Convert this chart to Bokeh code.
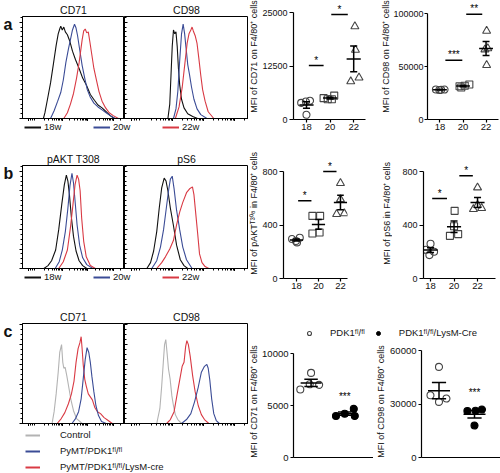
import numpy as np
from bokeh.plotting import figure
from bokeh.layouts import row, column
from bokeh.models import (Legend, LegendItem, FixedTicker, SingleIntervalTicker,
                          NumeralTickFormatter, Range1d, CustomLabelingPolicy)
from bokeh.core.properties import value
from bokeh.embed import file_html
from bokeh.resources import INLINE

FONT = "Liberation Sans"
BLACK = "#111111"
BLUE = "#3b4c96"
RED = "#d93a44"
GRAY = "#b3b3b3"
MARK = "#444444"

# ---------------- histogram curves (normalised fluorescence 0-100, % of max) ----------------
a_cd71_18w_x = [20.5, 22.0, 24.5, 27.5, 30.5, 33.0, 35.0, 36.5, 37.5, 39.0, 40.5, 42.0, 44.0, 46.5, 49.0, 52.0, 55.5, 59.0, 62.5, 66.5, 70.5, 74.0, 78.0, 82.0, 86.0, 90.0]
a_cd71_18w_y = [0, 6, 20, 37, 58, 76, 88, 93, 96, 92, 95, 90, 87, 80, 70, 61, 52, 42, 35, 25, 19, 14, 11, 7, 3, 0]
a_cd71_20w_x = [27.5, 31.0, 34.5, 37.5, 40.0, 42.5, 45.0, 47.0, 49.0, 51.0, 52.5, 54.0, 56.0, 58.5, 61.0, 63.5, 66.5, 70.0, 74.0, 78.0, 82.0, 86.0, 91.0]
a_cd71_20w_y = [0, 8, 18, 27, 40, 58, 72, 82, 92, 98, 94, 86, 72, 55, 42, 30, 22, 16, 12, 9, 6, 3, 0]
a_cd71_22w_x = [40.5, 44.0, 47.0, 50.0, 53.0, 55.5, 57.0, 58.5, 60.0, 61.5, 63.0, 64.5, 66.0, 68.0, 70.0, 72.5, 75.0, 78.0, 81.5, 85.0, 89.0, 94.0]
a_cd71_22w_y = [0, 6, 15, 26, 42, 58, 70, 82, 91, 93, 89, 90, 80, 66, 52, 40, 28, 18, 11, 6, 3, 0]

a_cd98_18w_x = [35.0, 36.5, 37.5, 38.5, 39.5, 40.5, 41.5, 42.5, 43.5, 44.5, 46.0, 48.0, 51.0, 55.0, 59.0]
a_cd98_18w_y = [0, 15, 45, 75, 92, 88, 90, 75, 52, 35, 20, 11, 5, 2, 0]
a_cd98_20w_x = [39.5, 41.5, 43.0, 44.5, 46.0, 47.3, 48.5, 49.5, 51.0, 52.5, 54.0, 56.0, 58.5, 61.5, 66.5]
a_cd98_20w_y = [0, 10, 28, 60, 88, 98, 88, 75, 56, 45, 33, 20, 10, 4, 0]
a_cd98_22w_x = [41.0, 44.0, 46.5, 48.5, 50.5, 52.0, 53.5, 54.5, 55.5, 57.0, 58.5, 60.0, 61.5, 63.0, 65.0, 67.5, 72.0]
a_cd98_22w_y = [0, 12, 32, 55, 78, 88, 92, 95, 91, 86, 78, 62, 45, 30, 18, 7, 0]

b_akt_18w_x = [21.0, 25.0, 28.5, 32.5, 35.5, 38.5, 41.0, 43.0, 44.5, 46.0, 48.0, 50.0, 52.5, 55.5, 59.0, 63.0]
b_akt_18w_y = [0, 3, 8, 19, 40, 66, 86, 96, 90, 76, 52, 33, 18, 8, 3, 0]
b_akt_20w_x = [32.0, 36.0, 39.0, 42.0, 44.5, 46.5, 48.5, 50.0, 51.5, 53.5, 56.0, 59.0, 63.0, 69.0]
b_akt_20w_y = [0, 7, 19, 38, 62, 85, 98, 88, 70, 45, 24, 11, 4, 0]
b_akt_22w_x = [35.5, 40.0, 44.0, 47.0, 49.5, 51.5, 53.5, 55.0, 56.5, 58.0, 60.0, 62.5, 66.5, 71.5]
b_akt_22w_y = [0, 7, 19, 42, 66, 86, 96, 92, 80, 52, 28, 12, 3, 0]

b_ps6_18w_x = [18.0, 21.0, 23.5, 26.0, 28.0, 30.0, 32.0, 33.5, 35.0, 37.0, 39.5, 42.0, 45.0, 48.0, 51.0]
b_ps6_18w_y = [0, 6, 18, 38, 62, 83, 93, 90, 80, 62, 44, 24, 9, 3, 0]
b_ps6_20w_x = [22.0, 26.0, 29.0, 31.5, 33.5, 35.5, 37.0, 38.5, 40.0, 42.0, 44.5, 47.0, 50.0, 54.5]
b_ps6_20w_y = [0, 8, 22, 40, 60, 80, 92, 95, 82, 60, 40, 22, 9, 0]
b_ps6_22w_x = [26.0, 30.0, 33.0, 36.5, 39.5, 42.0, 44.5, 47.0, 50.0, 52.5, 54.8, 56.0, 57.5, 59.0, 60.5, 62.5, 65.0, 68.0]
b_ps6_22w_y = [0, 6, 12, 20, 29, 45, 58, 68, 78, 82, 84, 76, 56, 36, 15, 6, 2, 0]

c_cd71_ctrl_x = [29.0, 31.0, 33.0, 35.0, 36.5, 38.3, 39.5, 40.5, 41.8, 43.5, 45.5, 47.5, 50.0, 53.0, 58.5]
c_cd71_ctrl_y = [0, 12, 30, 52, 72, 80, 62, 56, 57, 48, 36, 24, 13, 5, 0]
c_cd71_fl_x = [48.5, 52.0, 55.0, 57.5, 59.5, 61.5, 63.3, 65.0, 66.5, 68.0, 70.0, 72.0, 74.5, 77.5, 82.0]
c_cd71_fl_y = [0, 5, 12, 25, 45, 65, 77, 72, 62, 48, 32, 18, 8, 2, 0]
c_cd71_cre_x = [34.0, 38.0, 41.5, 45.0, 48.0, 50.5, 52.5, 54.5, 56.3, 57.5, 58.5, 59.5, 61.0, 62.5, 64.5, 66.5, 68.5, 71.0, 73.5, 76.5, 80.0, 84.0, 88.0]
c_cd71_cre_y = [0, 5, 11, 20, 30, 43, 62, 76, 82, 88, 75, 60, 45, 38, 30, 27, 24, 16, 12, 10, 6, 3, 0]

c_cd98_ctrl_x = [26.0, 28.5, 30.0, 31.3, 32.3, 33.3, 34.3, 35.5, 36.8, 38.2, 39.5, 41.0, 43.0, 46.0]
c_cd98_ctrl_y = [0, 15, 38, 62, 80, 85, 72, 55, 45, 28, 18, 9, 4, 0]
c_cd98_fl_x = [46.0, 50.0, 53.5, 56.5, 59.5, 62.0, 64.5, 66.4, 67.5, 68.8, 70.3, 72.0, 74.0, 76.5]
c_cd98_fl_y = [0, 4, 10, 22, 37, 52, 58, 60, 56, 44, 25, 10, 3, 0]
c_cd98_cre_x = [34.0, 37.0, 40.0, 42.5, 44.5, 46.5, 48.0, 49.3, 50.3, 51.5, 53.0, 55.0, 57.0, 59.5, 62.0, 64.5, 68.0]
c_cd98_cre_y = [0, 4, 12, 30, 44, 58, 62, 78, 84, 80, 68, 48, 32, 18, 9, 4, 0]

# ---------------- scatter data ----------------
weeks = [18, 20, 22]
week_labels = ["18", "20", "22"]

a1_18_x = [17.55, 17.95, 18.3, 18.0];  a1_18 = [3900, 4200, 4400, 1100]
a1_20_x = [19.45, 19.8, 20.15, 20.35]; a1_20 = [5000, 4750, 4750, 5600]
a1_22_x = [22.1, 22.15, 21.75, 22.45]; a1_22 = [21800, 16300, 8900, 9800]
a1_sig_x0 = [18.2, 20.1]; a1_sig_x1 = [19.45, 21.5]; a1_sig_y = [12650, 24600]; a1_sig = ["*", "*"]

a2_18_x = [17.65, 17.95, 18.4, 18.1];  a2_18 = [28300, 27800, 28300, 28000]
a2_20_x = [19.7, 20.15, 20.55, 19.85]; a2_20 = [31400, 31800, 33000, 30200]
a2_22_x = [22.05, 21.9, 22.05, 22.15]; a2_22 = [83600, 66000, 51300, 67100]
a2_sig_x0 = [18.47, 20.28]; a2_sig_x1 = [19.94, 21.67]; a2_sig_y = [56000, 99400]; a2_sig = ["***", "**"]

b1_18_x = [17.6, 17.95, 18.3, 18.05];  b1_18 = [295, 280, 305, 270]
b1_20_x = [19.45, 20.15, 19.45, 20.1]; b1_20 = [468, 468, 337, 344]
b1_22_x = [22.0, 21.65, 22.35, 22.0];  b1_22 = [713, 481, 486, 592]
b1_sig_x0 = [18.15, 20.43]; b1_sig_x1 = [19.36, 21.64]; b1_sig_y = [581, 800]; b1_sig = ["*", "*"]

b2_18_x = [18.0, 17.6, 18.3, 17.9];    b2_18 = [260, 215, 200, 175]
b2_20_x = [20.05, 19.65, 20.35, 20.0]; b2_20 = [506, 319, 332, 391]
b2_22_x = [22.0, 21.65, 22.35, 22.0];  b2_22 = [680, 518, 526, 548]
b2_sig_x0 = [18.14, 20.45]; b2_sig_x1 = [19.4, 21.6]; b2_sig_y = [598, 768]; b2_sig = ["*", "*"]

c1_fl_x = [1.0, 0.68, 0.96, 1.24];  c1_fl = [8150, 6550, 7050, 7000]
c1_cre_x = [1.74, 2.0, 2.27, 2.3];  c1_cre = [4000, 4220, 4680, 4000]
c1_star_x = [2.0]; c1_star_y = [5300]; c1_star = ["***"]

c2_fl_x = [1.0, 0.76, 1.0, 1.21];   c2_fl = [51000, 35000, 31300, 33200]
c2_cre_x = [1.8, 2.03, 2.21, 2.0];  c2_cre = [26200, 26300, 27000, 18000]
c2_star_x = [2.0]; c2_star_y = [33500]; c2_star = ["***"]

HIST_XTICKS = [6, 39, 64, 89]
HIST_XMINOR = [8, 10, 12] + [d + 25 * np.log10(k) for d in (14, 39, 64, 89) for k in range(2, 10)
                            if d + 25 * np.log10(k) < 100]

NO_LABELS = CustomLabelingPolicy(code="return []")
NAN = [float("nan")]


def base_fig(width, height, left, right, top, bottom, xr, yr, title=None):
    kw = dict(width=width, height=height, x_range=Range1d(*xr), y_range=Range1d(*yr),
              toolbar_location=None, output_backend="svg", min_border=0,
              min_border_left=left, min_border_right=right, min_border_top=top,
              min_border_bottom=bottom)
    if title is not None:
        kw["title"] = title
    p = figure(**kw)
    p.grid.visible = False
    p.background_fill_color = "white"
    p.border_fill_color = "white"
    return p


def blank_fig(width, height):
    p = figure(width=width, height=height, toolbar_location=None, output_backend="svg",
               min_border=0, min_border_left=0, min_border_right=0, min_border_top=0,
               min_border_bottom=0, x_axis_type=None, y_axis_type=None,
               x_range=Range1d(0, width), y_range=Range1d(0, height))
    p.outline_line_color = None
    p.grid.visible = False
    return p


def text_strip(width, height, text, x, y_top, size="9px", bold=False, angle=0.0, align="center"):
    """A narrow strip holding one text (axis title or panel letter); y_top is measured from the top."""
    p = blank_fig(width, height)
    p.text(x=[x], y=[height - y_top], text=[text], angle=angle, text_align=align,
           text_baseline="middle", text_font=value(FONT), text_font_size=size,
           text_font_style="bold" if bold else "normal", text_color="#111111")
    return p


def make_hist(title, curves, width, left, right, top, frame_h, bottom, ymax, first):
    p = base_fig(width, top + frame_h + bottom, left, right, top, bottom, (0, 100), (0, ymax), title)
    p.title.align = "center"
    p.title.text_font = FONT
    p.title.text_font_size = "10.5px"
    p.title.text_font_style = "normal"
    p.title.text_color = "#111111"
    p.title.standoff = 2
    p.outline_line_color = "black"
    p.outline_line_alpha = 1.0
    for xs, ys, c in curves:
        p.line(xs, ys, line_color=c, line_width=1.1)
    ya = p.yaxis[0]
    ya.ticker = SingleIntervalTicker(interval=20, num_minor_ticks=4)
    ya.major_label_text_font_size = "0px"
    ya.major_label_standoff = 0
    ya.major_label_policy = NO_LABELS
    ya.axis_line_color = "black"
    if first:
        ya.major_tick_out, ya.major_tick_in, ya.minor_tick_out, ya.minor_tick_in = 3, 0, 2, 0
    else:
        ya.major_tick_out, ya.major_tick_in, ya.minor_tick_out, ya.minor_tick_in = 0, 3, 0, 2
    xa = p.xaxis[0]
    xa.ticker = FixedTicker(ticks=HIST_XTICKS, minor_ticks=HIST_XMINOR)
    xa.major_label_text_font_size = "0px"
    xa.major_label_standoff = 0
    xa.major_label_policy = NO_LABELS
    xa.major_tick_out, xa.major_tick_in, xa.minor_tick_out, xa.minor_tick_in = 3, 0, 2, 0
    return p


def make_scatter(width, height, left, right, top, bottom, xr, yr, yticks, ybounds, xticks,
                 ytick_font="9px", xtick_font="9.5px", tick_out=4, standoff=2):
    p = base_fig(width, height, left, right, top, bottom, xr, yr)
    p.outline_line_color = None
    ya = p.yaxis[0]
    ya.ticker = FixedTicker(ticks=yticks, minor_ticks=[])
    ya.bounds = ybounds
    ya.formatter = NumeralTickFormatter(format="0")
    ya.major_tick_out, ya.major_tick_in, ya.minor_tick_out, ya.minor_tick_in = tick_out, 0, 0, 0
    ya.major_label_standoff = standoff
    ya.major_label_text_font = FONT
    ya.major_label_text_font_size = ytick_font
    ya.major_label_text_color = "#111111"
    ya.axis_line_width = 1.2
    ya.major_tick_line_width = 1.2
    xa = p.xaxis[0]
    xa.ticker = FixedTicker(ticks=xticks, minor_ticks=[])
    if xticks:
        xa.major_label_overrides = {t: l for t, l in zip(weeks, week_labels)}
        xa.major_tick_out = 3
        xa.major_label_text_font_size = xtick_font
    else:
        xa.major_tick_out = 0
        xa.major_label_text_font_size = "0px"
        xa.major_label_policy = NO_LABELS
    xa.major_tick_in, xa.minor_tick_out, xa.minor_tick_in = 0, 0, 0
    xa.major_label_standoff = 1
    xa.major_label_text_font = FONT
    xa.major_label_text_color = "#111111"
    xa.axis_line_width = 1.2
    xa.major_tick_line_width = 1.2
    return p


def add_group(p, xs, ys, center, marker, size, fill, half_mean, half_cap):
    p.scatter(xs, ys, marker=marker, size=size, line_color=MARK if fill is None else "black",
              fill_color=fill, line_width=1.1)
    m = float(np.mean(ys))
    s = float(np.std(ys, ddof=1) / np.sqrt(len(ys)))
    p.segment(x0=[center - half_mean, center - half_cap, center - half_cap, center],
              y0=[m, m + s, m - s, m - s],
              x1=[center + half_mean, center + half_cap, center + half_cap, center],
              y1=[m, m + s, m - s, m + s], line_color="black", line_width=1.5)


def add_stars(p, xs, ys, stars):
    p.text(x=xs, y=ys, text=stars, text_align="center", text_baseline="bottom",
           text_font=value(FONT), text_font_size="10px", text_color="#000000")


def add_sig(p, x0s, x1s, ys, stars):
    p.segment(x0=x0s, y0=ys, x1=x1s, y1=ys, line_color="black", line_width=1.5)
    add_stars(p, [(a + b) / 2 for a, b in zip(x0s, x1s)], ys, stars)


def legend_fig(width, height, items, orientation, loc, glyph_w, standoff, spacing, font_size):
    p = blank_fig(width, height)
    its = []
    for label, kind, color in items:
        if kind == "line":
            r = p.line(x=NAN, y=NAN, line_color=color, line_width=2)
        elif kind == "open":
            r = p.scatter(x=NAN, y=NAN, marker="circle", size=7, line_color=MARK,
                          fill_color=None, line_width=1.1)
        else:
            r = p.scatter(x=NAN, y=NAN, marker="circle", size=7, line_color="black",
                          fill_color="black")
        its.append(LegendItem(label=value(label), renderers=[r]))
    leg = Legend(items=its, location=loc, orientation=orientation, glyph_width=glyph_w,
                 glyph_height=10, label_height=10, label_standoff=standoff, spacing=spacing,
                 padding=0, margin=0, border_line_color=None, background_fill_alpha=0,
                 label_text_font=FONT, label_text_font_size=font_size, label_text_color="#151515")
    p.add_layout(leg)
    return p


ROT = np.pi / 2

# ---------------- row a ----------------
hA1 = make_hist("CD71", [(a_cd71_18w_x, a_cd71_18w_y, BLACK), (a_cd71_20w_x, a_cd71_20w_y, BLUE),
                         (a_cd71_22w_x, a_cd71_22w_y, RED)], 105, 3, 0, 15, 103, 3, 106, True)
hA2 = make_hist("CD98", [(a_cd98_18w_x, a_cd98_18w_y, BLACK), (a_cd98_20w_x, a_cd98_20w_y, BLUE),
                         (a_cd98_22w_x, a_cd98_22w_y, RED)], 124, 0, 0, 15, 103, 3, 106, False)
letA = text_strip(19, 121, "a", 3, 9, size="16px", bold=True, align="left")
week_items = [("18w", "line", BLACK), ("20w", "line", BLUE), ("22w", "line", RED)]
lA = legend_fig(248, 19, week_items, "horizontal", (24, 8), 17, 3, 29, "9.5px")

yA1 = text_strip(11, 140, "MFI of CD71 on F4/80\u207a cells", 5.5, 66, angle=ROT)
sA1 = make_scatter(116, 140, 34, 10, 0, 21, (16.9, 23.0), (0, 27880), [0, 12500, 25000], (0, 25000), weeks)
add_group(sA1, a1_18_x, a1_18, 18, "circle", 7, None, 0.6, 0.3)
add_group(sA1, a1_20_x, a1_20, 20, "square", 7, None, 0.6, 0.3)
add_group(sA1, a1_22_x, a1_22, 22, "triangle", 8, None, 0.6, 0.3)
add_sig(sA1, a1_sig_x0, a1_sig_x1, a1_sig_y, a1_sig)

yA2 = text_strip(15, 140, "MFI of CD98 on F4/80\u207a cells", 10, 66, angle=ROT)
sA2 = make_scatter(110, 140, 34, 2, 0, 21, (16.92, 23.08), (0, 112300), [0, 50000, 100000], (0, 100000),
                   weeks, tick_out=3, standoff=1)
add_group(sA2, a2_18_x, a2_18, 18, "circle", 7, None, 0.6, 0.3)
add_group(sA2, a2_20_x, a2_20, 20, "square", 7, None, 0.6, 0.3)
add_group(sA2, a2_22_x, a2_22, 22, "triangle", 8, None, 0.6, 0.3)
add_sig(sA2, a2_sig_x0, a2_sig_x1, a2_sig_y, a2_sig)

rowA = row(column(row(letA, hA1, hA2), lA), yA1, sA1, yA2, sA2)

# ---------------- row b ----------------
hB1 = make_hist("pAKT T308", [(b_akt_18w_x, b_akt_18w_y, BLACK), (b_akt_20w_x, b_akt_20w_y, BLUE),
                              (b_akt_22w_x, b_akt_22w_y, RED)], 105, 3, 0, 25, 103, 3, 106, True)
hB2 = make_hist("pS6", [(b_ps6_18w_x, b_ps6_18w_y, BLACK), (b_ps6_20w_x, b_ps6_20w_y, BLUE),
                        (b_ps6_22w_x, b_ps6_22w_y, RED)], 124, 0, 0, 25, 103, 3, 106, False)
letB = text_strip(19, 131, "b", 3, 10, size="16px", bold=True, align="left")
lB = legend_fig(248, 29, week_items, "horizontal", (24, 18), 17, 3, 29, "9.5px")

yB1 = text_strip(11, 160, "MFI of pAKT\u1d40\u00b3\u2070\u2078 in F4/80\u207a cells", 5.5, 84.5, angle=ROT)
sB1 = make_scatter(116, 160, 24, 28, 0, 22, (16.82, 22.64), (0, 1032), [0, 400, 800], (0, 800), weeks)
add_group(sB1, b1_18_x, b1_18, 18, "circle", 7, None, 0.6, 0.3)
add_group(sB1, b1_20_x, b1_20, 20, "square", 7, None, 0.6, 0.3)
add_group(sB1, b1_22_x, b1_22, 22, "triangle", 8, None, 0.6, 0.3)
add_sig(sB1, b1_sig_x0, b1_sig_x1, b1_sig_y, b1_sig)

yB2 = text_strip(17, 160, "MFI of pS6 in F4/80\u207a cells", 11, 84.5, angle=ROT)
sB2 = make_scatter(108, 160, 31, 5, 0, 22, (17.4, 23.53), (0, 1032), [0, 400, 800], (0, 800), weeks)
add_group(sB2, b2_18_x, b2_18, 18, "circle", 7, None, 0.6, 0.3)
add_group(sB2, b2_20_x, b2_20, 20, "square", 7, None, 0.6, 0.3)
add_group(sB2, b2_22_x, b2_22, 22, "triangle", 8, None, 0.6, 0.3)
add_sig(sB2, b2_sig_x0, b2_sig_x1, b2_sig_y, b2_sig)

rowB = row(column(row(letB, hB1, hB2), lB), yB1, sB1, yB2, sB2)

# ---------------- row c ----------------
hC1 = make_hist("CD71", [(c_cd71_ctrl_x, c_cd71_ctrl_y, GRAY), (c_cd71_cre_x, c_cd71_cre_y, RED),
                         (c_cd71_fl_x, c_cd71_fl_y, BLUE)], 105, 3, 0, 23, 100, 3, 101.4, True)
hC2 = make_hist("CD98", [(c_cd98_ctrl_x, c_cd98_ctrl_y, GRAY), (c_cd98_cre_x, c_cd98_cre_y, RED),
                         (c_cd98_fl_x, c_cd98_fl_y, BLUE)], 124, 0, 0, 23, 100, 3, 101.4, False)
letC = text_strip(19, 126, "c", 3, 10, size="16px", bold=True, align="left")
geno_items = [("Control", "line", GRAY),
              ("PyMT/PDK1\u1da0\u02e1/\u1da0\u02e1", "line", BLUE),
              ("PyMT/PDK1\u1da0\u02e1/\u1da0\u02e1/LysM-cre", "line", RED)]
lC = legend_fig(248, 47, geno_items, "vertical", (25, 1), 15, 20, 5, "9.5px")

lS = legend_fig(252, 45, [("PDK1\u1da0\u02e1/\u1da0\u02e1", "open", MARK),
                          ("PDK1\u1da0\u02e1/\u1da0\u02e1/LysM-Cre", "filled", "black")],
                "horizontal", (56, 7), 10, 16, 8, "9.5px")

yC1 = text_strip(11, 128, "MFI of CD71 on F4/80\u207a cells", 5.5, 64, angle=ROT)
sC1 = make_scatter(114, 128, 32, 0, 0, 11, (0.478, 2.855), (0, 10790), [0, 5000, 10000], (0, 10000),
                   [], ytick_font="9.5px", tick_out=3, standoff=2)
add_group(sC1, c1_fl_x, c1_fl, 1, "circle", 7, None, 0.31, 0.2)
add_group(sC1, c1_cre_x, c1_cre, 2, "circle", 7, "black", 0.31, 0.2)
add_stars(sC1, c1_star_x, c1_star_y, c1_star)

yC2 = text_strip(14, 128, "MFI of CD98 on F4/80\u207a cells", 7, 64, angle=ROT)
sC2 = make_scatter(113, 128, 34, 0, 0, 16, (0.507, 2.732), (0, 63040), [0, 30000, 60000], (0, 60000),
                   [], ytick_font="9.5px", tick_out=3, standoff=2)
add_group(sC2, c2_fl_x, c2_fl, 1, "circle", 7, None, 0.31, 0.2)
add_group(sC2, c2_cre_x, c2_cre, 2, "circle", 7, "black", 0.31, 0.2)
add_stars(sC2, c2_star_x, c2_star_y, c2_star)

rowC = row(column(row(letC, hC1, hC2), lC), column(lS, row(yC1, sC1, yC2, sC2)))

root = column(rowA, rowB, rowC)
root.styles = {"position": "absolute", "left": "0px", "top": "0px"}

open("out.html", "w").write(file_html(root, INLINE))
